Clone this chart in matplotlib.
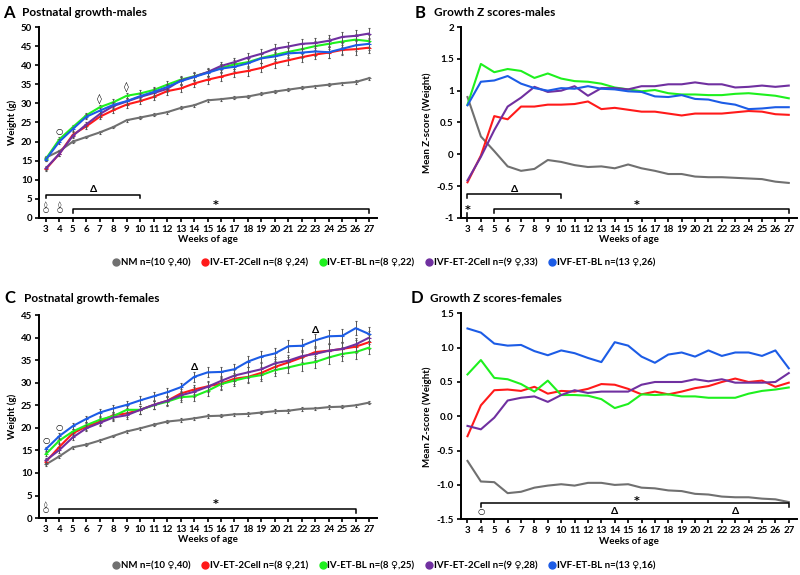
import matplotlib
matplotlib.use("Agg")
import matplotlib.pyplot as plt
from matplotlib.lines import Line2D

plt.rcParams['font.family'] = ['Lato', 'DejaVu Sans']
plt.rcParams['font.weight'] = 'bold'

weeks = list(range(3, 28))
groups = ["NM", "IV-ET-2Cell", "IV-ET-BL", "IVF-ET-2Cell", "IVF-ET-BL"]
colors = ["#707070", "#ff1a1a", "#1ef01e", "#7030a0", "#1c5ce6"]
legend_males = ["NM n=(10 ♀,40)", "IV-ET-2Cell n=(8 ♀,24)", "IV-ET-BL n=(8 ♀,22)",
                "IVF-ET-2Cell n=(9 ♀,33)", "IVF-ET-BL n=(13 ♀,26)"]
legend_females = ["NM n=(10 ♀,40)", "IV-ET-2Cell n=(8 ♀,21)", "IV-ET-BL n=(8 ♀,25)",
                  "IVF-ET-2Cell n=(9 ♀,28)", "IVF-ET-BL n=(13 ♀,16)"]

# A: weight, males
wm_nm = [15.8, 17.5, 20.0, 21.2, 22.4, 23.8, 25.6, 26.3, 27.0, 27.7, 28.8, 29.5, 30.8,
         31.1, 31.5, 31.8, 32.5, 33.1, 33.6, 34.1, 34.5, 34.9, 35.3, 35.6, 36.6]
wm_iv2 = [12.8, 16.8, 21.8, 24.0, 26.5, 28.2, 29.7, 30.6, 31.7, 33.2, 33.9, 35.2, 36.2,
          37.0, 37.9, 38.5, 39.3, 40.5, 41.3, 42.1, 42.8, 43.3, 44.0, 44.2, 44.6]
wm_ivbl = [15.5, 20.6, 23.8, 26.9, 29.0, 30.3, 32.0, 32.6, 33.5, 34.9, 36.2, 37.1, 38.1,
           39.3, 40.2, 40.8, 41.9, 42.7, 43.5, 44.2, 45.0, 45.6, 46.2, 46.7, 46.3]
wm_ivf2 = [13.0, 16.8, 21.5, 24.5, 27.2, 29.3, 30.5, 31.7, 32.7, 33.8, 36.0, 37.0, 38.2,
           39.8, 40.8, 42.0, 43.0, 44.3, 44.9, 45.6, 45.8, 46.4, 47.4, 47.7, 48.3]
wm_ivfbl = [15.3, 20.0, 23.3, 26.5, 28.1, 29.6, 30.6, 31.9, 33.0, 34.3, 35.8, 36.9, 38.0,
            39.1, 39.6, 40.5, 41.8, 42.3, 43.1, 43.3, 43.6, 43.4, 44.3, 45.2, 45.6]
err_wm_nm = [0.3, 0.3, 0.3, 0.3, 0.3, 0.3, 0.4, 0.4, 0.4, 0.4, 0.4, 0.4, 0.4,
             0.4, 0.4, 0.4, 0.4, 0.4, 0.4, 0.4, 0.4, 0.4, 0.4, 0.4, 0.4]
err_wm = [0.5, 0.6, 0.6, 0.7, 0.7, 0.8, 0.8, 0.8, 0.9, 0.9, 1.0, 1.0, 1.0,
          1.1, 1.1, 1.2, 1.2, 1.2, 1.3, 1.3, 1.3, 1.4, 1.4, 1.4, 1.5]

# B: z scores, males
zm_nm = [0.90, 0.28, 0.05, -0.19, -0.26, -0.23, -0.09, -0.12, -0.17, -0.20, -0.19, -0.22, -0.16,
         -0.22, -0.26, -0.31, -0.31, -0.35, -0.36, -0.36, -0.37, -0.38, -0.39, -0.43, -0.45]
zm_iv2 = [-0.44, -0.02, 0.60, 0.55, 0.75, 0.75, 0.78, 0.78, 0.79, 0.83, 0.71, 0.73, 0.70,
          0.67, 0.67, 0.64, 0.61, 0.64, 0.64, 0.64, 0.66, 0.68, 0.67, 0.63, 0.62]
zm_ivbl = [0.78, 1.42, 1.29, 1.34, 1.31, 1.20, 1.27, 1.19, 1.15, 1.14, 1.11, 1.05, 1.02,
           0.99, 1.01, 0.96, 0.94, 0.94, 0.93, 0.93, 0.95, 0.96, 0.94, 0.92, 0.88]
zm_ivf2 = [-0.41, -0.04, 0.38, 0.75, 0.89, 1.06, 0.98, 1.00, 1.07, 0.92, 1.04, 1.04, 1.02,
           1.07, 1.07, 1.10, 1.10, 1.13, 1.10, 1.10, 1.05, 1.06, 1.08, 1.06, 1.08]
zm_ivfbl = [0.77, 1.14, 1.16, 1.23, 1.11, 1.04, 1.00, 1.04, 1.03, 1.07, 1.03, 1.02, 0.99,
            0.98, 0.91, 0.90, 0.93, 0.87, 0.86, 0.81, 0.78, 0.71, 0.72, 0.74, 0.74]

# C: weight, females
wf_nm = [11.9, 13.7, 15.7, 16.3, 17.2, 18.2, 19.2, 19.9, 20.7, 21.4, 21.7, 22.1, 22.6,
         22.7, 23.0, 23.1, 23.4, 23.7, 23.8, 24.2, 24.3, 24.6, 24.7, 25.0, 25.6]
wf_iv2 = [12.5, 15.8, 18.8, 20.3, 21.4, 22.8, 23.2, 24.0, 25.1, 26.0, 27.6, 28.5, 29.2,
          29.8, 30.9, 31.3, 32.2, 33.5, 34.5, 35.6, 36.8, 37.1, 37.5, 38.0, 39.0]
wf_ivbl = [14.2, 17.2, 19.2, 20.6, 21.8, 22.6, 24.0, 24.0, 25.0, 25.8, 26.8, 27.0, 28.2,
           29.7, 30.5, 31.2, 31.7, 32.8, 33.4, 34.1, 34.6, 35.6, 36.4, 36.8, 37.8]
wf_ivf2 = [12.8, 15.1, 17.9, 19.9, 21.1, 22.3, 22.8, 24.0, 25.1, 26.0, 27.2, 28.0, 29.1,
           30.4, 31.6, 32.3, 33.0, 34.3, 34.9, 35.9, 36.4, 37.1, 37.5, 38.5, 40.0]
wf_ivfbl = [15.3, 18.2, 20.4, 22.0, 23.4, 24.3, 25.1, 26.1, 27.0, 27.9, 29.0, 31.3, 32.3,
            32.4, 33.0, 34.7, 35.8, 36.5, 38.1, 38.2, 39.4, 40.3, 40.4, 42.1, 40.8]
err_wf_nm = [0.3, 0.3, 0.3, 0.3, 0.3, 0.3, 0.3, 0.3, 0.3, 0.3, 0.4, 0.4, 0.4,
             0.4, 0.4, 0.4, 0.4, 0.4, 0.4, 0.4, 0.4, 0.4, 0.4, 0.4, 0.4]
err_wf = [0.5, 0.6, 0.6, 0.7, 0.7, 0.8, 0.8, 0.9, 0.9, 1.0, 1.0, 1.1, 1.1,
          1.2, 1.2, 1.2, 1.3, 1.3, 1.3, 1.4, 1.4, 1.4, 1.5, 1.5, 1.5]

# D: z scores, females
zf_nm = [-0.65, -0.95, -0.96, -1.12, -1.10, -1.04, -1.01, -0.99, -1.01, -0.97, -0.97, -1.00, -0.99,
         -1.04, -1.05, -1.08, -1.09, -1.13, -1.14, -1.17, -1.18, -1.18, -1.20, -1.21, -1.25]
zf_iv2 = [-0.29, 0.16, 0.38, 0.39, 0.37, 0.43, 0.33, 0.37, 0.36, 0.40, 0.47, 0.46, 0.40,
          0.32, 0.36, 0.32, 0.36, 0.41, 0.44, 0.50, 0.55, 0.50, 0.52, 0.43, 0.49]
zf_ivbl = [0.61, 0.82, 0.56, 0.54, 0.47, 0.36, 0.52, 0.31, 0.31, 0.30, 0.25, 0.12, 0.18,
           0.32, 0.31, 0.32, 0.29, 0.29, 0.27, 0.27, 0.27, 0.33, 0.37, 0.39, 0.42]
zf_ivf2 = [-0.14, -0.19, -0.02, 0.23, 0.27, 0.29, 0.21, 0.31, 0.38, 0.34, 0.36, 0.36, 0.36,
           0.46, 0.50, 0.50, 0.50, 0.54, 0.51, 0.54, 0.49, 0.49, 0.49, 0.50, 0.63]
zf_ivfbl = [1.28, 1.22, 1.06, 1.03, 1.04, 0.95, 0.89, 0.96, 0.92, 0.85, 0.79, 1.08, 1.03,
            0.87, 0.78, 0.90, 0.93, 0.87, 0.96, 0.88, 0.93, 0.93, 0.88, 0.96, 0.70]

# significance brackets: (x start, x end, y, label, label x, label y)
brackets_A = [(3, 10, 6.0, "Δ", 6.5, 7.4), (5, 27, 2.3, "*", 15.6, 3.4)]
brackets_B = [(3, 10, -0.63, "Δ", 6.5, -0.55), (5, 27, -0.86, "*", 15.6, -0.79)]
brackets_C = [(4, 26, 2.0, "*", 15.6, 3.2)]
brackets_D = [(4, 27, -1.27, "*", 15.6, -1.23)]
# single symbols: (x, y, text)
marks_A = [(4, 22.7, "○"), (7, 31.3, "◊"), (9, 34.3, "◊"),
           (3, 2.8, "◊\n○"), (4, 2.8, "◊\n○")]
marks_B = [(3, -0.87, "*")]
marks_C = [(3, 17.2, "○"), (4, 20.1, "○"), (14, 33.4, "Δ"), (23, 41.6, "Δ"),
           (3, 2.4, "◊\n○")]
marks_D = [(4, -1.39, "○"), (14, -1.39, "Δ"), (23, -1.39, "Δ")]

fs = 7
mark_sizes = {"○": 6, "◊": 7, "Δ": 7.5}


def style_axes(ax, ylim, yticks, yticklabels, ylabel):
    ax.set_xlim(2.5, 27.6)
    ax.set_ylim(*ylim)
    ax.set_xticks(weeks)
    ax.set_xticklabels([str(w) for w in weeks], fontsize=fs, fontweight='bold')
    ax.set_yticks(yticks)
    ax.set_yticklabels(yticklabels, fontsize=fs, fontweight='bold')
    ax.set_xlabel("Weeks of age", fontsize=fs, fontweight='bold', labelpad=1)
    ax.set_ylabel(ylabel, fontsize=fs, fontweight='bold', labelpad=3)
    for s in ["top", "right"]:
        ax.spines[s].set_visible(False)
    for s in ["left", "bottom"]:
        ax.spines[s].set_linewidth(1.4)
    ax.tick_params(direction='out', length=3, width=1.2, pad=2)


def draw_brackets(ax, brackets, marks, drop):
    for x0, x1, y, lab, lx, ly in brackets:
        ax.plot([x0, x0, x1, x1], [y - drop, y, y, y - drop], color='black', lw=1.1, clip_on=False)
        if lab == "*":
            ax.text(lx, ly, lab, fontsize=8, ha='center', va='center', fontweight='bold',
                    family='DejaVu Sans')
        else:
            ax.text(lx, ly, lab, fontsize=7.5, ha='center', va='center', fontweight='bold')
    for x, y, t in marks:
        if t == "*":
            ax.text(x, y, t, fontsize=8, ha='center', va='center', fontweight='bold',
                    family='DejaVu Sans')
        elif "\n" in t:
            ax.text(x, y, t, fontsize=5, ha='center', va='center', linespacing=0.6,
                    family='DejaVu Sans')
        elif t == "Δ":
            ax.text(x, y, t, fontsize=mark_sizes[t], ha='center', va='center', fontweight='bold')
        else:
            ax.text(x, y, t, fontsize=mark_sizes[t], ha='center', va='center',
                    family='DejaVu Sans')


def draw_weight(ax, series, err_nm, err):
    for i, (vals, c) in enumerate(zip(series, colors)):
        e = err_nm if i == 0 else err
        ax.errorbar(weeks, vals, yerr=e, color=c, lw=1.5, ecolor='#555555', elinewidth=0.7,
                    capsize=1.0, capthick=0.5, marker='_', ms=3, mew=0.8, zorder=2 + i)


def draw_z(ax, series):
    for vals, c in zip(series, colors):
        ax.plot(weeks, vals, color=c, lw=1.5)


fig = plt.figure(figsize=(8, 5.75), dpi=100)
axA = fig.add_axes([0.049, 0.621, 0.4225, 0.332])
axB = fig.add_axes([0.576, 0.621, 0.42, 0.332])
axC = fig.add_axes([0.049, 0.099, 0.4225, 0.353])
axD = fig.add_axes([0.576, 0.097, 0.42, 0.358])

draw_weight(axA, [wm_nm, wm_iv2, wm_ivbl, wm_ivf2, wm_ivfbl], err_wm_nm, err_wm)
style_axes(axA, (0, 50), list(range(0, 51, 5)), [str(v) for v in range(0, 51, 5)], "Weight (g)")
draw_brackets(axA, brackets_A, marks_A, 0.9)

draw_z(axB, [zm_nm, zm_iv2, zm_ivbl, zm_ivf2, zm_ivfbl])
zb = [-1, -0.5, 0, 0.5, 1, 1.5, 2]
style_axes(axB, (-1, 2), zb, ["-1", "-0.5", "0", "0.5", "1", "1.5", "2"], "Mean Z-score (Weight)")
draw_brackets(axB, brackets_B, marks_B, 0.06)
axB.plot([3, 3], [-0.93, -1.0], color='black', lw=1.1)

draw_weight(axC, [wf_nm, wf_iv2, wf_ivbl, wf_ivf2, wf_ivfbl], err_wf_nm, err_wf)
style_axes(axC, (0, 45), list(range(0, 46, 5)), [str(v) for v in range(0, 46, 5)], "Weight (g)")
draw_brackets(axC, brackets_C, marks_C, 0.8)

draw_z(axD, [zf_nm, zf_iv2, zf_ivbl, zf_ivf2, zf_ivfbl])
zd = [-1.5, -1.0, -0.5, 0.0, 0.5, 1.0, 1.5]
style_axes(axD, (-1.5, 1.5), zd, ["%.1f" % v for v in zd], "Mean Z-score (Weight)")
draw_brackets(axD, brackets_D, marks_D, 0.05)

# panel titles
for x, y, letter, title in [(0.004, 0.978, "A", "Postnatal growth-males"),
                            (0.518, 0.978, "B", "Growth Z scores-males"),
                            (0.006, 0.481, "C", "Postnatal growth-females"),
                            (0.513, 0.481, "D", "Growth Z scores-females")]:
    fig.text(x, y, letter, fontsize=12, fontweight='bold', va='center')
    fig.text(x + 0.024, y, title, fontsize=8.5, fontweight='bold', va='center')

# legends
for labels, ly in [(legend_males, 1 - 263 / 575), (legend_females, 1 - 566 / 575)]:
    handles = [Line2D([], [], ls='none', marker='o', ms=5, color=c) for c in colors]
    fig.legend(handles, labels, loc='center', bbox_to_anchor=(0.479, ly), ncol=5, frameon=False,
               prop={'size': fs, 'weight': 'bold'}, handletextpad=0.0, columnspacing=1.0,
               handlelength=1.0, borderpad=0.1)

fig.savefig("out.png", dpi=100)
